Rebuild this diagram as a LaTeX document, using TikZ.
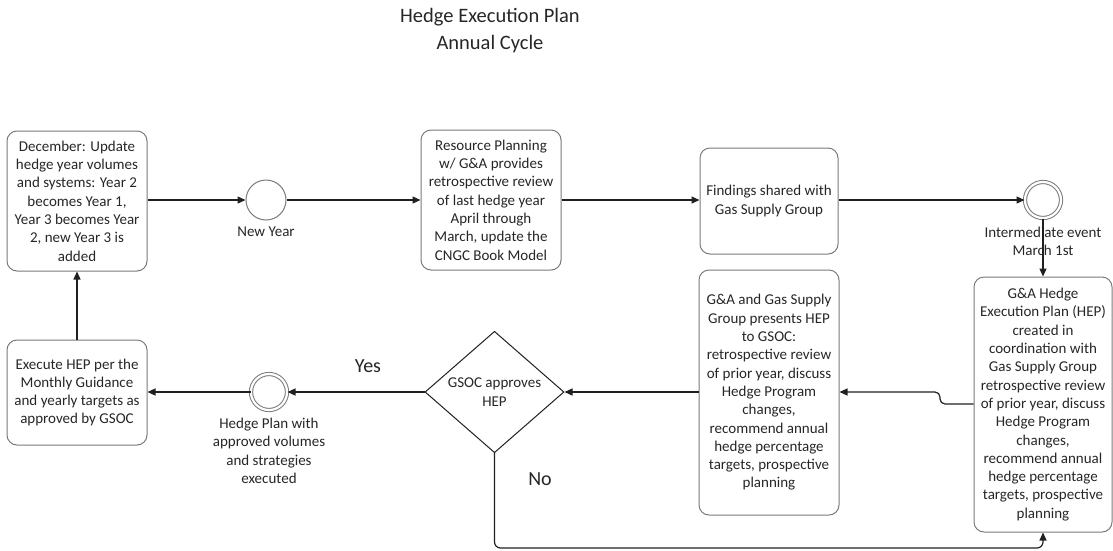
\documentclass[tikz,border=0pt]{standalone}
\usepackage{fontspec}
\setmainfont{Carlito}
\usetikzlibrary{shapes.geometric,arrows.meta}
\definecolor{txt}{HTML}{262626}
\definecolor{brd}{HTML}{7A7A7A}
\definecolor{lin}{HTML}{202020}
\begin{document}
\begin{tikzpicture}[x=1pt,y=-1pt,
  font=\fontsize{15}{18.3}\selectfont, text=txt,
  stepbox/.style={draw=brd, line width=1pt, rounded corners=10pt, align=center, inner sep=0pt},
  evt/.style={draw=brd, line width=1pt, circle, minimum size=40pt, inner sep=0pt},
  evt2/.style={evt, double=white, double distance=2.2pt, minimum size=36pt},
  lbl/.style={align=center, inner sep=0pt},
  big/.style={font=\fontsize{20}{24}\selectfont, inner sep=0pt},
  flow/.style={draw=lin, line width=1.2pt, -{Triangle[length=8pt,width=7pt]}},
]
\useasboundingbox (0,0) rectangle (1113,550);

\node[lbl, font=\fontsize{20.5}{27}\selectfont] (title) at (490,31) {Hedge Execution Plan\\Annual Cycle};

\node[stepbox, minimum width=140pt, minimum height=140pt] (dec) at (77,201)
  {December: Update\\hedge year volumes\\and systems: Year 2\\becomes Year 1,\\Year 3 becomes Year\\2, new Year 3 is\\added};
\node[evt] (ny) at (266,200) {};
\node[lbl, anchor=north] (nyl) at (266,227) {New Year};

\node[stepbox, minimum width=140pt, minimum height=140pt] (rp) at (491,200)
  {Resource Planning\\w/ G\&A provides\\retrospective review\\of last hedge year\\April through\\March, update the\\CNGC Book Model};

\node[stepbox, minimum width=138pt, minimum height=106pt] (fs) at (769,201)
  {Findings shared with\\Gas Supply Group};

\node[evt2] (ie) at (1043,200) {};
\node[lbl, anchor=north] (iel) at (1043,227) {Intermediate event\\March 1st};

\node[stepbox, minimum width=138pt, minimum height=255pt] (hep) at (1043,404.5)
  {G\&A Hedge\\Execution Plan (HEP)\\created in\\coordination with\\Gas Supply Group\\retrospective review\\of prior year, discuss\\Hedge Program\\changes,\\recommend annual\\hedge percentage\\targets, prospective\\planning};

\node[stepbox, minimum width=140pt, minimum height=245pt] (pr) at (769,392.5)
  {G\&A and Gas Supply\\Group presents HEP\\to GSOC:\\retrospective review\\of prior year, discuss\\Hedge Program\\changes,\\recommend annual\\hedge percentage\\targets, prospective\\planning};

\node[draw=lin, line width=1pt, diamond, minimum width=139pt, minimum height=105pt, inner sep=0pt, align=center] (dia) at (494.5,392)
  {GSOC approves\\HEP};

\node[evt2] (hp) at (269,392) {};
\node[lbl, anchor=north] (hpl) at (269,418) {Hedge Plan with\\approved volumes\\and strategies\\executed};

\node[stepbox, minimum width=140pt, minimum height=105pt] (ex) at (77,392.5)
  {Execute HEP per the\\Monthly Guidance\\and yearly targets as\\approved by GSOC};

\node[big] (yes) at (368,366) {Yes};
\node[big] (no) at (540,479) {No};

\coordinate (j1) at (940,404);
\coordinate (j2) at (940,392);
\coordinate (b1) at (494.5,548);
\coordinate (b2) at (1043,548);

\draw[flow] (dec.east |- ny.west) -- (ny.west);
\draw[flow] (ny.east) -- (rp.west |- ny.east);
\draw[flow] (rp.east) -- (fs.west |- rp.east);
\draw[flow] (fs.east |- ie.west) -- (ie.west);
\draw[flow] (ie.south) -- (hep.north);
\draw[flow, rounded corners=5pt] (hep.west |- j1) -- (j1) -- (j2) -- (pr.east |- j2);
\draw[flow] (pr.west |- dia.east) -- (dia.east);
\draw[flow] (dia.west) -- (hp.east);
\draw[flow] (hp.west) -- (ex.east |- hp.west);
\draw[flow] (ex.north) -- (dec.south);
\draw[flow, rounded corners=6pt] (dia.south) -- (b1) -- (b2) -- (hep.south);
\end{tikzpicture}
\end{document}
